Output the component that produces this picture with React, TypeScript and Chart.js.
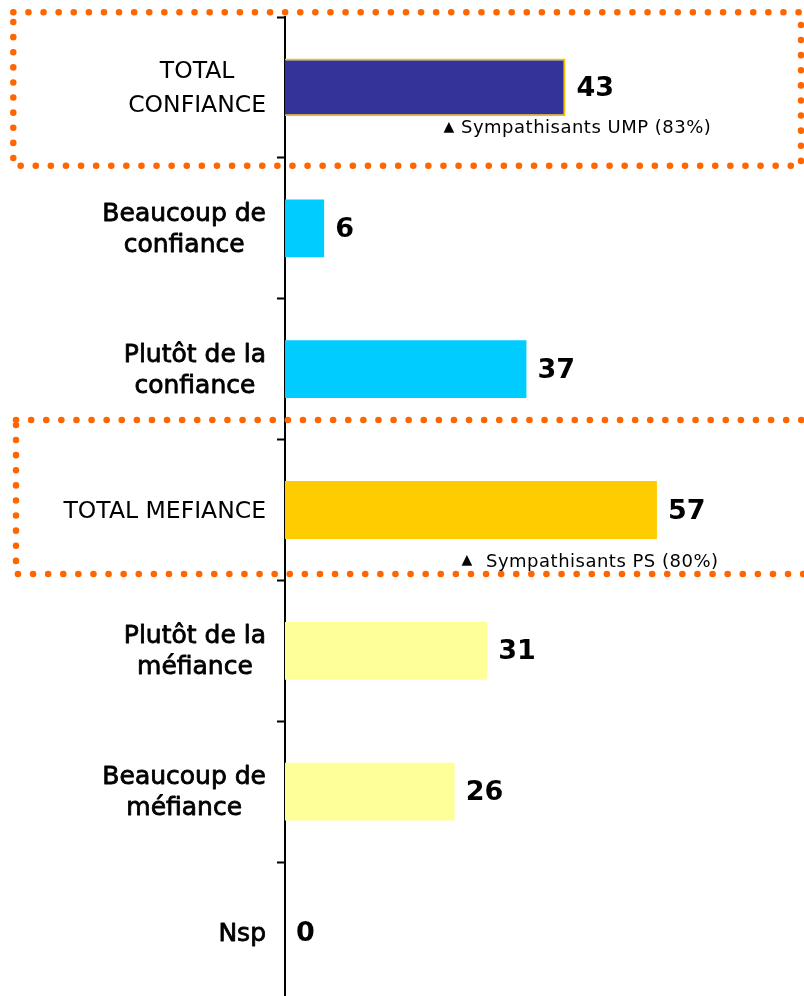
import React, { useEffect, useRef } from "react";
import { Chart, registerables } from "chart.js";

Chart.register(...registerables);

const categories: string[][] = [
  ["TOTAL", "CONFIANCE"],
  ["Beaucoup de", "confiance"],
  ["Plutôt de la", "confiance"],
  ["TOTAL MEFIANCE"],
  ["Plutôt de la", "méfiance"],
  ["Beaucoup de", "méfiance"],
  ["Nsp"],
];
const values: number[] = [43, 6, 37, 57, 31, 26, 0];
const barColors: string[] = ["#333399", "#00CCFF", "#00CCFF", "#FFCC00", "#FFFF99", "#FFFF99", "#FFFF99"];
const barBorderWidths: number[] = [2, 0, 0, 0, 0, 0, 0];
const totalRows: boolean[] = [true, false, false, true, false, false, false];
const noteRows: number[] = [0, 3];
const noteTexts: string[] = ["Sympathisants UMP (83%)", "Sympathisants PS (80%)"];

const overlayPlugin = {
  id: "overlay",
  afterDraw(chart: any) {
    const ctx = chart.ctx as CanvasRenderingContext2D;
    const yScale = chart.scales.y;
    const meta = chart.getDatasetMeta(0);
    ctx.save();

    // category labels: block right aligned, lines centered within block
    const blockRight = 266;
    categories.forEach((lines, i) => {
      const cy = yScale.getPixelForValue(i);
      const isTotal = totalRows[i];
      ctx.font = isTotal ? "23.5px 'DejaVu Sans'" : "25px 'DejaVu Sans'";
      ctx.fillStyle = "#000";
      ctx.strokeStyle = "#000";
      ctx.lineWidth = 0.8;
      ctx.lineJoin = "round";
      ctx.textBaseline = "middle";
      ctx.textAlign = "center";
      const widest = Math.max(...lines.map((l) => ctx.measureText(l).width));
      const cx = blockRight - widest / 2;
      const lh = isTotal ? 34 : 31;
      lines.forEach((l, k) => {
        const y = cy + 1.5 + (k - (lines.length - 1) / 2) * lh;
        ctx.fillText(l, cx, y);
        if (!isTotal) ctx.strokeText(l, cx, y);
      });
    });

    // value labels
    ctx.font = "bold 27px 'DejaVu Sans'";
    ctx.textAlign = "left";
    ctx.textBaseline = "middle";
    ctx.fillStyle = "#000";
    meta.data.forEach((bar: any, i: number) => {
      ctx.fillText(String(values[i]), bar.x + 11, bar.y + 1.5);
    });

    // dotted boxes
    ctx.strokeStyle = "#FF6600";
    ctx.lineWidth = 6.5;
    ctx.lineCap = "round";
    ctx.setLineDash([0.1, 15]);
    ctx.beginPath();
    ctx.rect(13.3, 12.3, 787.7, 153.4);
    ctx.stroke();
    ctx.beginPath();
    ctx.rect(16, 420, 830, 154);
    ctx.stroke();
    ctx.setLineDash([]);

    // notes
    const notePlacement = [
      { tri: 449, text: 461, dy: 41 },
      { tri: 467, text: 486, dy: 52 },
    ];
    noteRows.forEach((row, k) => {
      const cy = yScale.getPixelForValue(row) + notePlacement[k].dy;
      ctx.fillStyle = "#000";
      ctx.textBaseline = "middle";
      ctx.textAlign = "center";
      ctx.font = "14px 'DejaVu Sans'";
      ctx.fillText("▲", notePlacement[k].tri, cy - 1.5);
      ctx.textAlign = "left";
      ctx.font = "18px 'DejaVu Sans'";
      (ctx as any).letterSpacing = "0.5px";
      ctx.fillText(noteTexts[k], notePlacement[k].text, cy);
      (ctx as any).letterSpacing = "0px";
    });

    ctx.restore();
  },
};

export default function App() {
  const canvasRef = useRef<HTMLCanvasElement | null>(null);

  useEffect(() => {
    const canvas = canvasRef.current;
    if (!canvas) return;
    const chart = new Chart(canvas, {
      type: "bar",
      data: {
        labels: categories.map((c) => c.join(" ")),
        datasets: [
          {
            data: values,
            backgroundColor: barColors,
            borderColor: "#F2C200",
            borderWidth: barBorderWidths,
            borderSkipped: "start",
            barPercentage: 0.41,
            categoryPercentage: 1,
          },
        ],
      },
      options: {
        indexAxis: "y",
        responsive: false,
        animation: false,
        devicePixelRatio: 1,
        layout: { padding: { top: 17, bottom: 1, left: 0, right: 0 } },
        plugins: {
          legend: { display: false },
          tooltip: { enabled: false },
          title: { display: false },
        },
        scales: {
          x: {
            display: false,
            min: 0,
            max: 80,
          },
          y: {
            display: true,
            ticks: { display: false },
            grid: {
              display: true,
              drawOnChartArea: false,
              drawTicks: true,
              tickLength: 8,
              tickColor: "#000",
              tickWidth: 2,
              offset: true,
            },
            border: { display: true, color: "#000", width: 2 },
            afterFit: (scale: any) => {
              scale.width = 285;
            },
          },
        },
      },
      plugins: [overlayPlugin],
    });
    return () => chart.destroy();
  }, []);

  return (
    <div
      style={{
        position: "absolute",
        left: 0,
        top: 0,
        width: 804,
        height: 996,
        overflow: "hidden",
        background: "#fff",
      }}
    >
      <canvas ref={canvasRef} width={807} height={1004} style={{ display: "block" }} />
    </div>
  );
}
